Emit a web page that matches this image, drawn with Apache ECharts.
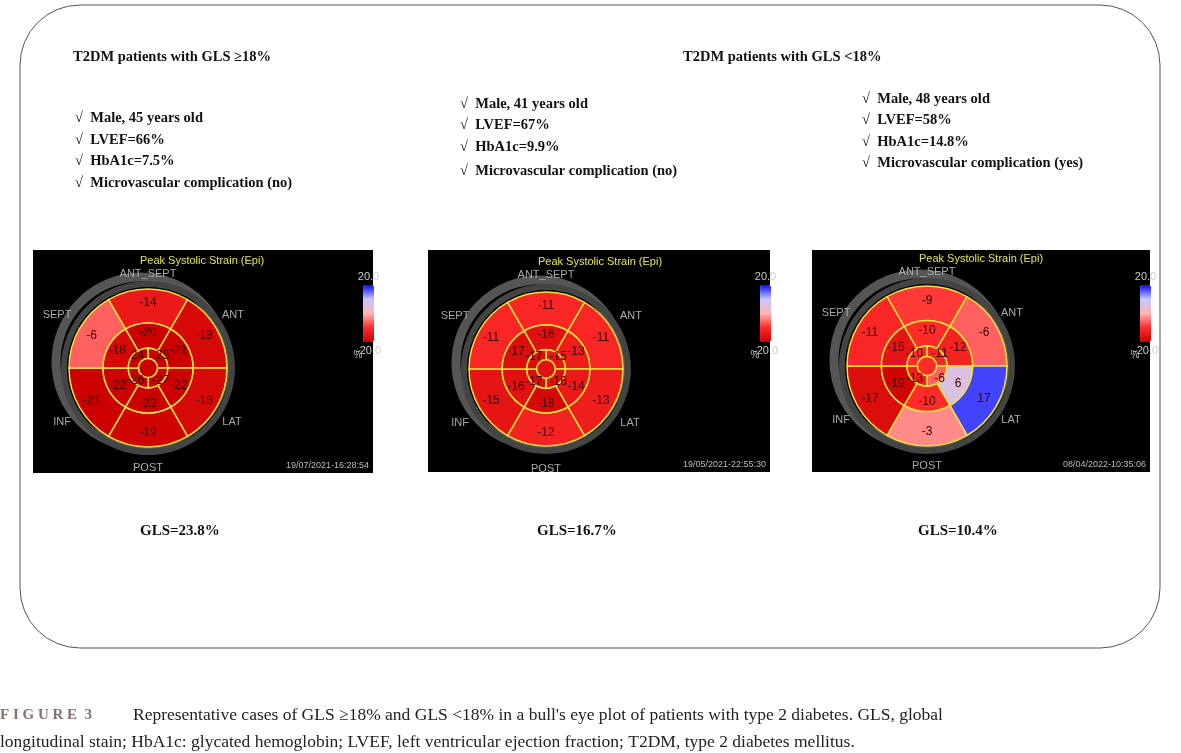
<!DOCTYPE html>
<html><head><meta charset="utf-8">
<script src="https://cdn.jsdelivr.net/npm/echarts@6/dist/echarts.min.js"></script>
<style>html,body{margin:0;padding:0;background:#fff}#c{width:1181px;height:753px}</style>
</head><body><div id="c"></div>
<script>
// segment order: basal/mid start at top (ANT_SEPT) clockwise; apical starts upper-right clockwise
var basal1 = [-14, -18, -18, -19, -21, -6];
var mid1 = [-20, -21, -22, -22, -22, -18];
var apical1 = [-25, -27, -26, -24];
var apex1 = [-25];
var basal2 = [-11, -11, -13, -12, -15, -11];
var mid2 = [-16, -13, -14, -18, -16, -17];
var apical2 = [-15, -16, -17, -17];
var apex2 = [-16];
var basal3 = [-9, -6, 17, -3, -17, -11];
var mid3 = [-10, -12, 6, -10, -19, -15];
var apical3 = [-11, -6, -13, -10];
var apex3 = [-10];
var glsLabels = ['GLS=23.8%', 'GLS=16.7%', 'GLS=10.4%'];
var dates = ['19/07/2021-16:28:54', '19/05/2021-22:55:30', '08/04/2022-10:35:06'];

var panels = [
  {c: [148, 368], r: 79, box: [33, 250, 340, 223], rings: [basal1, mid1, apical1, apex1]},
  {c: [546, 369], r: 77, box: [428, 250, 342, 222], rings: [basal2, mid2, apical2, apex2]},
  {c: [927, 366], r: 80, box: [812, 250, 338, 222], rings: [basal3, mid3, apical3, apex3]}
];

var chart = echarts.init(document.getElementById('c'));
var serif = '"Liberation Serif", "DejaVu Serif", serif';
var sans = '"Liberation Sans", "DejaVu Sans", sans-serif';
var graphic = [];
var series = [];
var visualMap = [];

graphic.push({type: 'rect', shape: {x: 20, y: 5, width: 1140, height: 643, r: 60},
  style: {fill: 'none', stroke: '#555', lineWidth: 1}, z: 0});

function txt(x, y, s, font, color, extra) {
  var o = {type: 'text', x: x, y: y, z: 10, style: {text: s, font: font, fill: color || '#111'}};
  if (extra) for (var k in extra) o.style[k] = extra[k];
  graphic.push(o);
}

panels.forEach(function (p, pi) {
  var b = p.box, cx = p.c[0], cy = p.c[1], R = p.r;
  graphic.push({type: 'rect', shape: {x: b[0], y: b[1], width: b[2], height: b[3]}, style: {fill: '#000'}, z: 0});
  graphic.push({type: 'circle', shape: {cx: cx - 7, cy: cy - 6, r: R + 6}, style: {fill: 'none', stroke: '#555', lineWidth: 9}, z: 1});
  graphic.push({type: 'circle', shape: {cx: cx, cy: cy, r: R + 5}, style: {fill: 'none', stroke: '#444', lineWidth: 6}, z: 1});
  txt(cx + 54, cy - 107, 'Peak Systolic Strain (Epi)', '11px ' + sans, '#e6e64a', {align: 'center', verticalAlign: 'middle'});
  var lab = [['ANT_SEPT', 0, -94], ['SEPT', -91, -53], ['ANT', 85, -53], ['INF', -86, 54], ['LAT', 84, 54], ['POST', 0, 100]];
  lab.forEach(function (l) {
    txt(cx + l[1], cy + l[2], l[0], '11px ' + sans, '#aaa', {align: 'center', verticalAlign: 'middle'});
  });
  txt(b[0] + b[2] - 4, b[1] + b[3] - 7, dates[pi], '9px ' + sans, '#bbb', {align: 'right', verticalAlign: 'middle'});
  txt(b[0] + b[2] - 15, b[1] + 105, '%', '10px ' + sans, '#bbb', {align: 'center', verticalAlign: 'middle'});

  visualMap.push({
    type: 'continuous', min: -20, max: 20, seriesIndex: [pi * 4, pi * 4 + 1, pi * 4 + 2, pi * 4 + 3],
    left: b[0] + b[2] - 32, top: b[1] + 6, itemWidth: 11, itemHeight: 57, text: ['20.0', '-20.0'], textGap: 3,
    textStyle: {color: '#ccc', fontSize: 11, fontFamily: sans}, calculable: false,
    inRange: {color: ['#cc0000', '#ff2a2a', '#ffb3b3', '#c4c8ff', '#0a0aff']}
  });

  var radii = [[0.57, 1], [0.25, 0.57], [0.12, 0.25], [0, 0.12]];
  p.rings.forEach(function (vals, ri) {
    series.push({
      type: 'pie', center: [cx, cy], radius: [radii[ri][0] * R, radii[ri][1] * R],
      startAngle: vals.length === 6 ? 120 : 90, clockwise: true, silent: true, animation: false,
      avoidLabelOverlap: false, z: 3,
      label: {show: true, position: 'inside', color: '#3a0000', fontSize: 12, fontFamily: sans,
        formatter: function (q) { return q.value[1]; }},
      labelLine: {show: false},
      itemStyle: {borderColor: '#f2e33a', borderWidth: 1.5},
      encode: {value: 0},
      // equal-sized segments; the strain value sits in dimension 1
      data: vals.map(function (v) { return {value: [1, v], name: String(v)}; })
    });
  });
  visualMap[visualMap.length - 1].dimension = 1;
  txt([140, 537, 918][pi], 531, glsLabels[pi], 'bold 15px ' + serif, '#111', {verticalAlign: 'middle'});
});

txt(73, 57, 'T2DM patients with GLS \u226518%', 'bold 14.5px ' + serif, '#111', {verticalAlign: 'middle'});
txt(683, 57, 'T2DM patients with GLS <18%', 'bold 14.5px ' + serif, '#111', {verticalAlign: 'middle'});
var bullets = [
  [75, [118, 140, 161, 183], ['Male, 45 years old', 'LVEF=66%', 'HbA1c=7.5%', 'Microvascular complication (no)']],
  [460, [104, 125, 147, 171], ['Male, 41 years old', 'LVEF=67%', 'HbA1c=9.9%', 'Microvascular complication (no)']],
  [862, [99, 120, 142, 163], ['Male, 48 years old', 'LVEF=58%', 'HbA1c=14.8%', 'Microvascular complication (yes)']]
];
bullets.forEach(function (bl) {
  bl[2].forEach(function (s, i) {
    txt(bl[0], bl[1][i], '\u221A  ' + s, 'bold 14.5px ' + serif, '#111', {verticalAlign: 'middle'});
  });
});

txt(0, 715, 'F I G U R E  3', 'bold 15px ' + serif, '#8a6f6f', {verticalAlign: 'middle'});
txt(133, 715, 'Representative cases of GLS \u226518% and GLS <18% in a bull\'s eye plot of patients with type 2 diabetes. GLS, global',
  '17.5px ' + serif, '#222', {verticalAlign: 'middle'});
txt(0, 742, 'longitudinal stain; HbA1c: glycated hemoglobin; LVEF, left ventricular ejection fraction; T2DM, type 2 diabetes mellitus.',
  '17.5px ' + serif, '#222', {verticalAlign: 'middle'});

chart.setOption({animation: false, graphic: graphic, series: series, visualMap: visualMap});
</script></body></html>
